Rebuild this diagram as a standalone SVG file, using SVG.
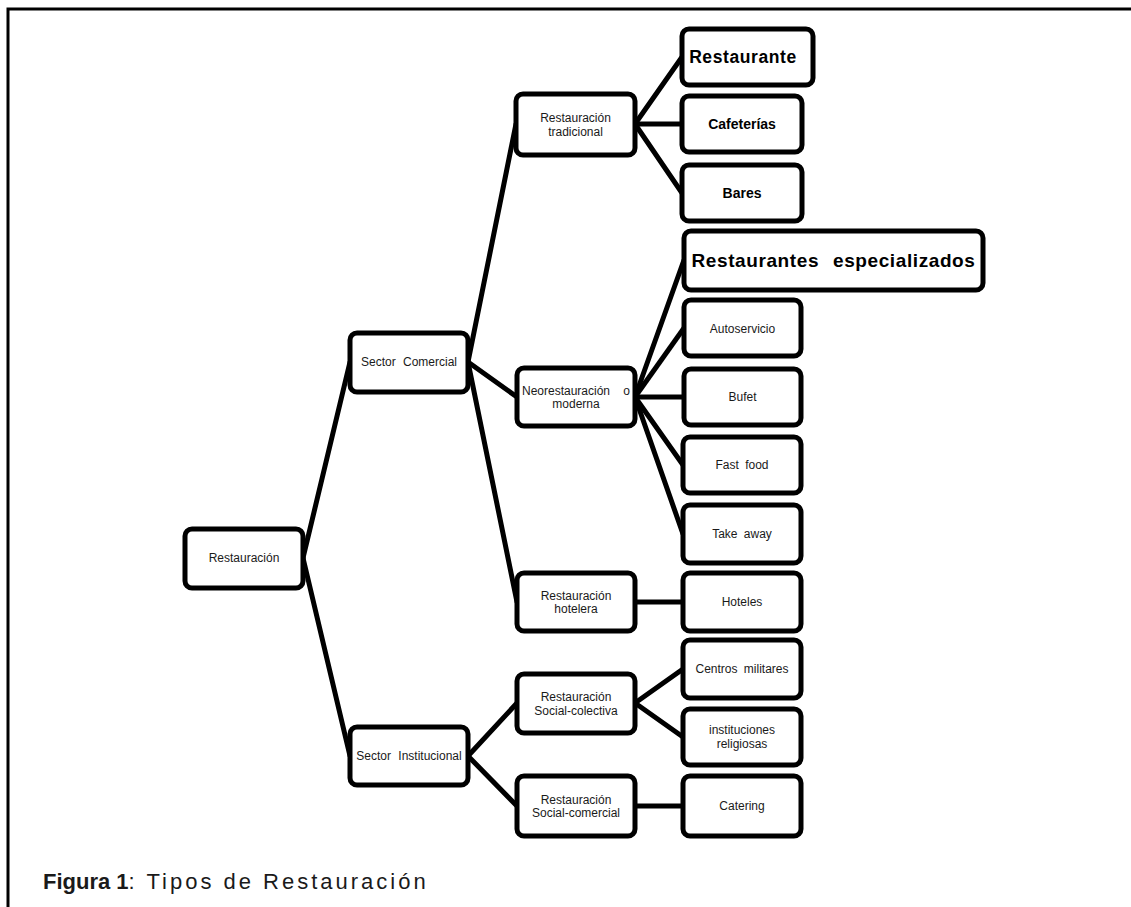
<svg xmlns="http://www.w3.org/2000/svg" width="1131" height="907" viewBox="0 0 1131 907">
<style>
.box{fill:#fff;stroke:#000;stroke-width:5;}
.t{font-family:"Liberation Sans",Arial,sans-serif;font-size:12px;fill:#1a1a1a;text-anchor:middle;}
.b{font-family:"Liberation Sans",Arial,sans-serif;font-weight:bold;fill:#000;text-anchor:middle;}
.con line{stroke:#000;stroke-width:5;stroke-linecap:round;}
</style>
<rect width="1131" height="907" fill="#fff"/>
<path d="M8,907 V9 H1131" fill="none" stroke="#000" stroke-width="3"/>
<g id="connectors" class="con">
<line x1="303" y1="558" x2="350" y2="362"/>
<line x1="303" y1="558" x2="350" y2="756"/>
<line x1="468" y1="362" x2="516" y2="124"/>
<line x1="468" y1="362" x2="517" y2="397"/>
<line x1="468" y1="362" x2="517" y2="602"/>
<line x1="635" y1="124" x2="682" y2="57"/>
<line x1="635" y1="124" x2="682" y2="124"/>
<line x1="635" y1="124" x2="682" y2="193"/>
<line x1="635" y1="397" x2="684" y2="260"/>
<line x1="635" y1="397" x2="684" y2="328"/>
<line x1="635" y1="397" x2="684" y2="397"/>
<line x1="635" y1="397" x2="683" y2="465"/>
<line x1="635" y1="397" x2="683" y2="534"/>
<line x1="635" y1="602" x2="683" y2="602"/>
<line x1="468" y1="756" x2="517" y2="703"/>
<line x1="468" y1="756" x2="517" y2="806"/>
<line x1="635" y1="703" x2="683" y2="669"/>
<line x1="635" y1="703" x2="683" y2="737"/>
<line x1="635" y1="806" x2="683" y2="806"/>
</g>
<g id="n-restauracion"><rect class="box" x="185" y="529" width="118" height="59" rx="7"/><text class="t" x="244" y="562">Restauración</text></g>
<g id="n-sector-comercial"><rect class="box" x="350" y="333" width="118" height="59" rx="7"/><text class="t" x="409" y="366" word-spacing="4">Sector Comercial</text></g>
<g id="n-sector-institucional"><rect class="box" x="350" y="727" width="118" height="58" rx="7"/><text class="t" x="409" y="760" word-spacing="4">Sector Institucional</text></g>
<g id="n-rest-tradicional"><rect class="box" x="516" y="94" width="119" height="61" rx="7"/><text class="t" x="575.5" y="122">Restauración</text><text class="t" x="575.5" y="135.5">tradicional</text></g>
<g id="n-neorestauracion"><rect class="box" x="517" y="368" width="118" height="58" rx="7"/><text class="t" x="576" y="394.5" word-spacing="10">Neorestauración o</text><text class="t" x="576" y="408">moderna</text></g>
<g id="n-rest-hotelera"><rect class="box" x="517" y="573" width="118" height="58" rx="7"/><text class="t" x="576" y="599.5">Restauración</text><text class="t" x="576" y="613">hotelera</text></g>
<g id="n-social-colectiva"><rect class="box" x="517" y="674" width="118" height="59" rx="7"/><text class="t" x="576" y="701">Restauración</text><text class="t" x="576" y="714.5">Social-colectiva</text></g>
<g id="n-social-comercial"><rect class="box" x="517" y="776" width="118" height="60" rx="7"/><text class="t" x="576" y="803.5">Restauración</text><text class="t" x="576" y="817">Social-comercial</text></g>
<g id="n-restaurante"><rect class="box" x="682" y="29" width="131" height="56" rx="7"/><text class="b" x="743" y="63" font-size="17.5" letter-spacing="0.6">Restaurante</text></g>
<g id="n-cafeterias"><rect class="box" x="682" y="96" width="120" height="56" rx="7"/><text class="b" x="742" y="129" font-size="14">Cafeterías</text></g>
<g id="n-bares"><rect class="box" x="682" y="165" width="120" height="56" rx="7"/><text class="b" x="742" y="198" font-size="14">Bares</text></g>
<g id="n-rest-especializados"><rect class="box" x="684" y="231" width="299" height="59" rx="7"/><text class="b" x="833.5" y="267" font-size="19" letter-spacing="0.6" word-spacing="8">Restaurantes especializados</text></g>
<g id="n-autoservicio"><rect class="box" x="684" y="300" width="117" height="56" rx="7"/><text class="t" x="742.5" y="332.5">Autoservicio</text></g>
<g id="n-bufet"><rect class="box" x="684" y="369" width="117" height="56" rx="7"/><text class="t" x="742.5" y="401">Bufet</text></g>
<g id="n-fastfood"><rect class="box" x="683" y="437" width="118" height="56" rx="7"/><text class="t" x="742" y="469" word-spacing="3">Fast food</text></g>
<g id="n-takeaway"><rect class="box" x="683" y="505" width="118" height="58" rx="7"/><text class="t" x="742" y="538" word-spacing="3">Take away</text></g>
<g id="n-hoteles"><rect class="box" x="683" y="573" width="118" height="58" rx="7"/><text class="t" x="742" y="606">Hoteles</text></g>
<g id="n-centros"><rect class="box" x="683" y="640" width="118" height="58" rx="7"/><text class="t" x="742" y="673" word-spacing="3">Centros militares</text></g>
<g id="n-instituciones"><rect class="box" x="683" y="709" width="118" height="56" rx="7"/><text class="t" x="742" y="734">instituciones</text><text class="t" x="742" y="747.5">religiosas</text></g>
<g id="n-catering"><rect class="box" x="683" y="776" width="118" height="60" rx="7"/><text class="t" x="742" y="810">Catering</text></g>
<text id="caption" x="43" y="889" font-family="'Liberation Sans',Arial,sans-serif" font-size="22" fill="#1a1a1a"><tspan font-weight="bold">Figura 1</tspan><tspan letter-spacing="3">: Tipos de Restauración</tspan></text>
</svg>
